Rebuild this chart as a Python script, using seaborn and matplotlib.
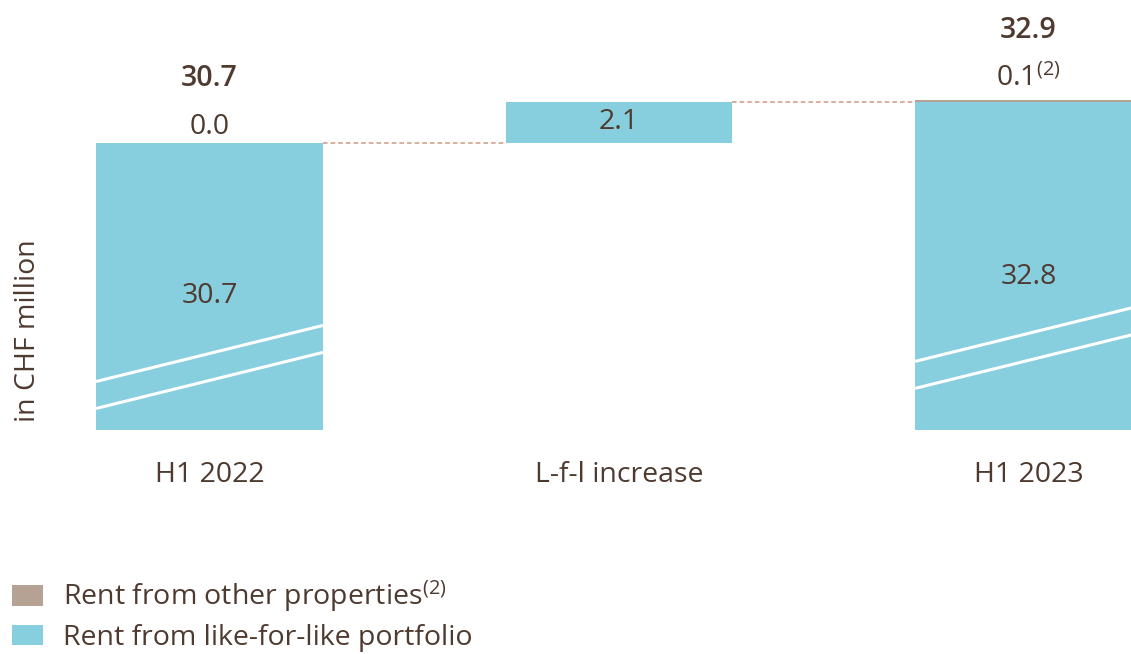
import matplotlib
matplotlib.use("Agg")
import matplotlib.pyplot as plt
from matplotlib.patches import Patch
import seaborn as sns
import pandas as pd

categories = ["H1 2022", "L-f-l increase", "H1 2023"]
lfl_values = [30.7, 2.1, 32.8]          # like-for-like portion per bar
other_values = [0.0, 0.0, 0.1]          # rent from other properties
base_values = [0.0, 30.7, 0.0]          # invisible waterfall base
total_labels = ["30.7", None, "32.9"]
other_labels = ["0.0", None, "0.1"]
lfl_labels = ["30.7", "2.1", "32.8"]
legend_labels = ["Rent from other properties$^{(2)}$", "Rent from like-for-like portfolio"]
y_label = "in CHF million"

TEAL = "#87CFDF"
BROWN = "#B5A295"
TEXT = "#4F3A30"
DASH = "#D09A82"
FS = 20.5

sns.set_theme(style="white")
plt.rcParams["font.family"] = ["Open Sans", "DejaVu Sans"]
plt.rcParams["mathtext.fontset"] = "custom"
plt.rcParams["mathtext.rm"] = "Open Sans"
plt.rcParams["mathtext.it"] = "Open Sans"

fig = plt.figure(figsize=(11.31, 6.54), dpi=100)
ax = fig.add_axes([96 / 1131, 224 / 654, 1035 / 1131, 430 / 654])

top_lfl = [b + v for b, v in zip(base_values, lfl_values)]
top_total = [t + o for t, o in zip(top_lfl, other_values)]
df = pd.DataFrame({"cat": categories, "total": top_total, "lfl": top_lfl, "base": base_values})

W = 0.554
sns.barplot(data=df, x="cat", y="total", color=BROWN, saturation=1, width=W, linewidth=0, ax=ax)
sns.barplot(data=df, x="cat", y="lfl", color=TEAL, saturation=1, width=W, linewidth=0, ax=ax)
sns.barplot(data=df, x="cat", y="base", color="white", saturation=1, width=W, linewidth=0, ax=ax)

ymin, ymax = 16.0, 38.0
ax.set_ylim(ymin, ymax)
ax.set_xlim(-W / 2, 2.25)
sns.despine(ax=ax, left=True, bottom=True)
ax.set_yticks([])
ax.tick_params(axis="x", length=0, pad=22, labelsize=FS, labelcolor=TEXT)
ax.set_xlabel("")
ax.set_ylabel(y_label, fontsize=FS, color=TEXT)
ax.yaxis.set_label_coords(-0.052, 0.232)

# connectors between bars
for i in range(len(categories) - 1):
    lvl = top_lfl[i]
    ax.plot([i + W / 2, i + 1 - W / 2], [lvl, lvl], color=DASH, lw=1.1,
            dashes=(3, 2), zorder=1)

# axis-break markers on total bars
slope = 2.87 / W  # data units per x unit
for i, start in [(0, 18.48), (2, 19.51)]:
    for k in range(2):
        y0 = start - k * 1.38
        ax.plot([i - W / 2, i + W / 2], [y0, y0 + slope * W], color="white",
                lw=2.2, zorder=5, solid_capstyle="butt")

# labels
total_offsets = [46, None, 50]
other_offsets = [11, None, 15]
for i in range(len(categories)):
    if total_labels[i]:
        ax.annotate(total_labels[i], (i, top_total[i]), xytext=(0, total_offsets[i]),
                    textcoords="offset points", ha="center", va="center",
                    fontsize=FS, fontweight="semibold", color=TEXT)
    if other_labels[i]:
        txt = other_labels[i] + ("$^{(2)}$" if i == 2 else "")
        ax.annotate(txt, (i, top_total[i]), xytext=(0, other_offsets[i]),
                    textcoords="offset points", ha="center", va="center",
                    fontsize=FS, color=TEXT)
    if i == 1:
        ax.text(i, base_values[i] + lfl_values[i] / 2, lfl_labels[i], ha="center",
                va="center", fontsize=FS, color=TEXT)
    else:
        ax.text(i, ymin + 0.465 * (top_lfl[i] - ymin), lfl_labels[i], ha="center",
                va="center", fontsize=FS, color=TEXT, zorder=6)

handles = [Patch(facecolor=BROWN, edgecolor="none"), Patch(facecolor=TEAL, edgecolor="none")]
leg = fig.legend(handles, legend_labels, loc="upper left",
                 bbox_to_anchor=(12 / 1131, 1 - 579 / 654), frameon=False,
                 fontsize=FS, handlelength=1.09, handleheight=0.74,
                 handletextpad=0.7, labelspacing=0.33, borderpad=0, borderaxespad=0)
for t in leg.get_texts():
    t.set_color(TEXT)

fig.savefig("out.png", dpi=100)
